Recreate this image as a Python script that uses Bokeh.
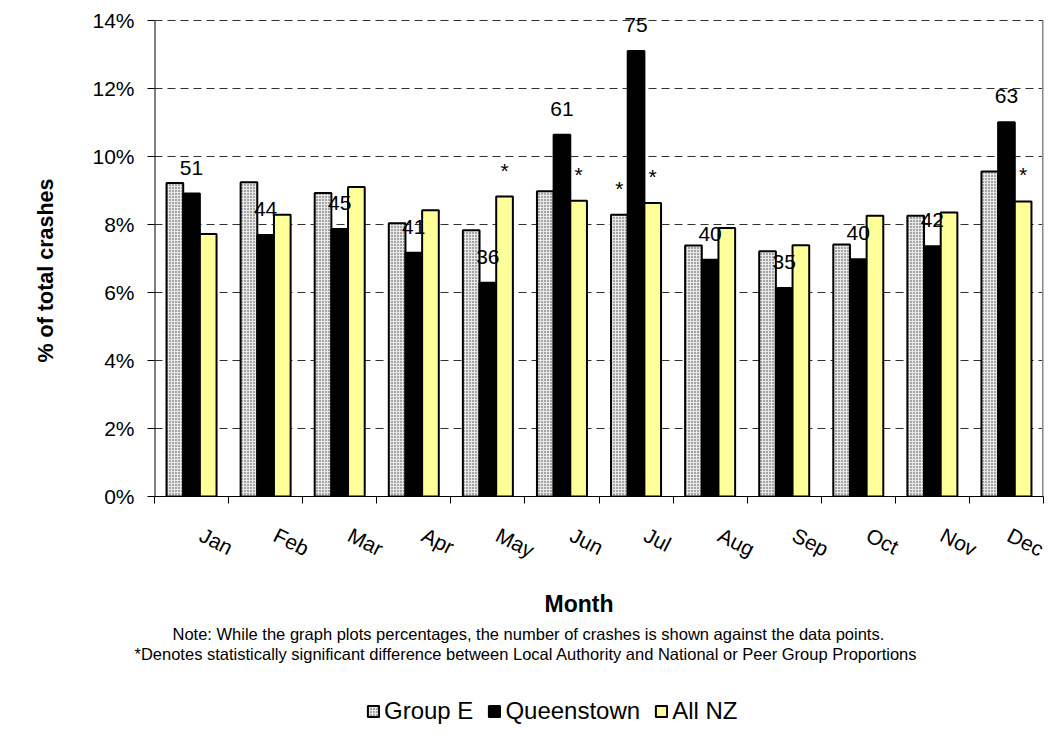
import math
from bokeh.plotting import figure
from bokeh.layouts import column
from bokeh.models import (ColumnDataSource, FixedTicker, PrintfTickFormatter, Range1d,
                          LabelSet, Title, Legend, LegendItem, CustomJSTickFormatter)
from bokeh.core.properties import value
from bokeh.transform import dodge
from bokeh.embed import file_html
from bokeh.resources import INLINE

# ---- data ----
months = ["Jan", "Feb", "Mar", "Apr", "May", "Jun", "Jul", "Aug", "Sep", "Oct", "Nov", "Dec"]
group_e = [9.22, 9.24, 8.93, 8.04, 7.83, 8.98, 8.29, 7.38, 7.21, 7.41, 8.26, 9.56]
queenstown = [8.91, 7.69, 7.87, 7.17, 6.29, 10.64, 13.10, 6.96, 6.13, 6.98, 7.36, 11.01]
all_nz = [7.72, 8.29, 9.10, 8.42, 8.82, 8.70, 8.63, 7.90, 7.39, 8.26, 8.35, 8.68]
counts = [51, 44, 45, 41, 36, 61, 75, 40, 35, 40, 42, 63]
sig_group_e = [False, False, False, False, False, False, True, False, False, False, False, False]
sig_all_nz = [False, False, False, False, True, True, True, False, False, False, False, True]
series_names = ["Group E", "Queenstown", "All NZ"]
y_ticks = [0, 2, 4, 6, 8, 10, 12, 14]
x_title = "Month"
y_title = "% of total crashes"
note_1 = "Note: While the graph plots percentages, the number of crashes is shown against the data points."
note_2 = "*Denotes statistically significant difference between Local Authority and National or Peer Group Proportions"

FONT = "Liberation Sans"
BAR_W = 0.225
HEADROOM = 10          # px of frame above the 14% line so the top label is not clipped
FRAME_H = 476
FRAME_W = 889
LEFT, RIGHT, TOP, BOTTOM = 154, 4, 20 - HEADROOM, 80

ge_style = dict(fill_color="#e8e8e8", hatch_pattern="dot", hatch_color="#404040",
                hatch_scale=3, hatch_weight=1.3, line_color="black", line_width=2)
q_style = dict(fill_color="black", line_color="black", line_width=2)
nz_style = dict(fill_color="#FFFF99", line_color="black", line_width=2)

xc = [i + 0.5 for i in range(len(months))]
src = ColumnDataSource(dict(x=xc, ge=group_e, q=queenstown, nz=all_nz,
                            cnt=[str(c) for c in counts]))

y_top = y_ticks[-1] * (FRAME_H + HEADROOM) / FRAME_H
p = figure(frame_width=FRAME_W, frame_height=FRAME_H + HEADROOM,
           x_range=Range1d(0, len(months)), y_range=Range1d(0, y_top),
           output_backend="svg", toolbar_location=None,
           min_border_left=LEFT, min_border_right=RIGHT, min_border_top=TOP,
           min_border_bottom=BOTTOM)
p.outline_line_color = None
p.background_fill_color = "white"
p.border_fill_color = "white"

p.xgrid.visible = False
p.ygrid.ticker = FixedTicker(ticks=y_ticks[1:])
p.ygrid.grid_line_color = "#333333"
p.ygrid.grid_line_dash = "8 5"
p.ygrid.grid_line_width = 1.2

# axis line on the left and grey plot-area edge on the right, only up to 14%
p.segment(x0=[0], y0=[y_ticks[0]], x1=[0], y1=[y_ticks[-1]], line_color="black", line_width=2)
p.segment(x0=[len(months)], y0=[y_ticks[0]], x1=[len(months)], y1=[y_ticks[-1]],
          line_color="#888888", line_width=3)

p.vbar(x=dodge("x", -BAR_W, range=p.x_range), top="ge", width=BAR_W, source=src, **ge_style)
p.vbar(x="x", top="q", width=BAR_W, source=src, **q_style)
p.vbar(x=dodge("x", BAR_W, range=p.x_range), top="nz", width=BAR_W, source=src, **nz_style)

# count labels
p.add_layout(LabelSet(x="x", y="q", text="cnt", source=src, text_align="center",
                      text_baseline="alphabetic", y_offset=19, text_font=value(FONT),
                      text_font_size=value("21px"), text_color="black"))

# significance stars
sx, sy = [], []
for i in range(len(months)):
    if sig_group_e[i]:
        sx.append(xc[i] - BAR_W); sy.append(group_e[i])
    if sig_all_nz[i]:
        sx.append(xc[i] + BAR_W); sy.append(all_nz[i])
star_src = ColumnDataSource(dict(x=sx, y=sy, t=["*"] * len(sx)))
p.add_layout(LabelSet(x="x", y="y", text="t", source=star_src, text_align="center",
                      text_baseline="alphabetic", y_offset=19, text_font=value(FONT),
                      text_font_size=value("21px"), text_color="black"))

# y axis
ya = p.yaxis[0]
ya.ticker = FixedTicker(ticks=y_ticks)
ya.formatter = PrintfTickFormatter(format="%d%%")
ya.major_tick_out = 7
ya.major_tick_in = 0
ya.minor_tick_line_color = None
ya.major_label_standoff = 13
ya.major_label_text_font = FONT
ya.major_label_text_font_size = "21px"
ya.major_label_text_color = "black"
ya.axis_line_color = None

p.add_layout(Title(text=y_title, align="left", offset=134, vertical_align="top",
                   text_font=FONT, text_font_size="21.5px", text_font_style="bold",
                   text_color="black", standoff=60), "left")

# x axis
xa = p.xaxis[0]
xa.ticker = FixedTicker(ticks=[c + 0.13 for c in xc], minor_ticks=list(range(len(months) + 1)))
xa.formatter = CustomJSTickFormatter(args=dict(months=months),
                                     code="return months[Math.floor(tick)];")
xa.major_tick_out = 0
xa.major_tick_in = 0
xa.minor_tick_out = 7
xa.minor_tick_in = 0
xa.minor_tick_line_color = "black"
xa.major_label_orientation = -0.47
xa.major_label_standoff = 30
xa.major_label_text_font = FONT
xa.major_label_text_font_size = "21px"
xa.major_label_text_color = "black"
xa.axis_line_color = "black"

# ---- footer: axis title, notes (titles above its frame) and legend (in its frame) ----
foot = figure(frame_width=FRAME_W, frame_height=70, x_range=Range1d(0, 1), y_range=Range1d(0, 1),
              output_backend="svg", toolbar_location=None, x_axis_type=None, y_axis_type=None,
              min_border_left=LEFT, min_border_right=RIGHT, min_border_top=86,
              min_border_bottom=0)
foot.outline_line_color = None
foot.grid.visible = False

# titles in the "above" panel stack outward from the frame: nearest first
foot.add_layout(Title(text=note_2, align="left", offset=-20, text_font=FONT,
                      text_font_size="16.5px", text_font_style="normal", text_color="black",
                      standoff=0), "above")
foot.add_layout(Title(text=note_1, align="left", offset=18, text_font=FONT,
                      text_font_size="16.5px", text_font_style="normal", text_color="black",
                      standoff=0), "above")
foot.add_layout(Title(text=x_title, align="left", offset=390, text_font=FONT,
                      text_font_size="23px", text_font_style="bold", text_color="black",
                      standoff=12), "above")

# legend swatches: hidden one-point renderers that only feed the legend
l_ge = foot.vbar(x=[0], top=[0], width=0, visible=False, **ge_style)
l_q = foot.vbar(x=[0], top=[0], width=0, visible=False, **q_style)
l_nz = foot.vbar(x=[0], top=[0], width=0, visible=False, **nz_style)
legend = Legend(items=[LegendItem(label=series_names[0], renderers=[l_ge]),
                       LegendItem(label=series_names[1], renderers=[l_q]),
                       LegendItem(label=series_names[2], renderers=[l_nz])],
                orientation="horizontal", location=(212, 7),
                border_line_color=None, background_fill_alpha=0,
                inactive_fill_alpha=0,
                label_text_font=FONT, label_text_font_size="24px", label_text_color="black",
                glyph_width=14, glyph_height=14, spacing=14, label_standoff=4,
                padding=0, margin=0)
foot.add_layout(legend, "center")

layout = column(p, foot, spacing=0)
open("out.html", "w").write(file_html(layout, INLINE))
